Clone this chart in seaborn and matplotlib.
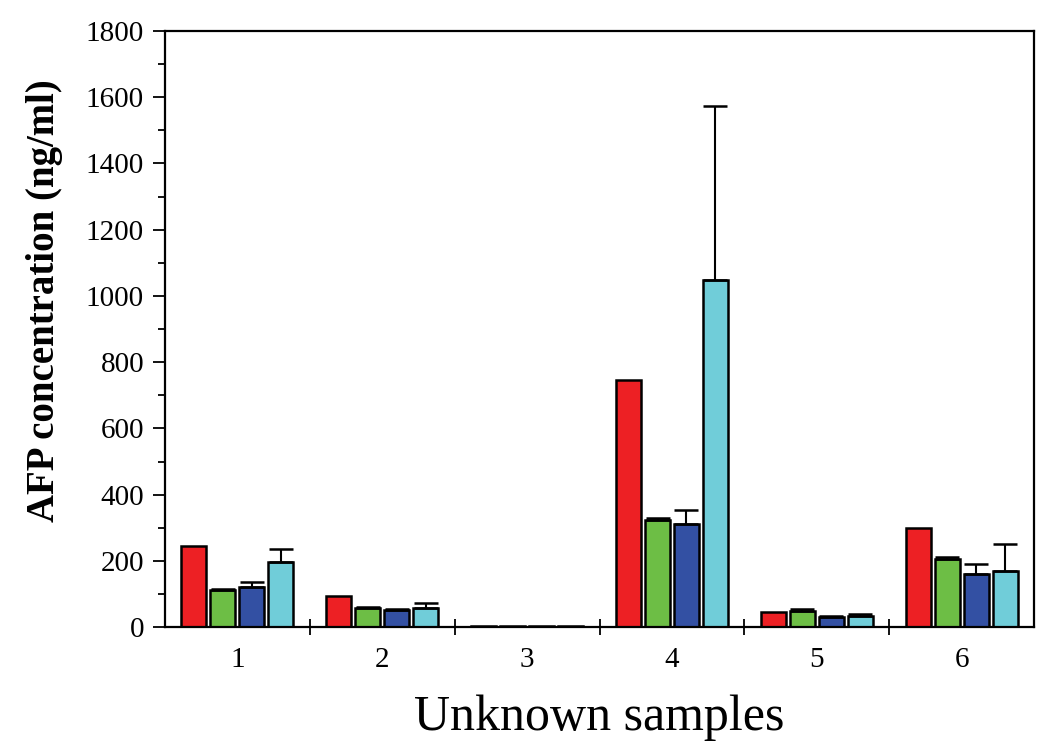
import numpy as np
import pandas as pd
import matplotlib
matplotlib.use("Agg")
import matplotlib.pyplot as plt
import seaborn as sns
from matplotlib.ticker import MultipleLocator, FixedLocator

# data
samples = ["1", "2", "3", "4", "5", "6"]
methods = ["A", "B", "C", "D"]
red_vals = [245, 94, 3, 745, 46, 300]
green_vals = [112, 58, 3, 325, 50, 207]
blue_vals = [121, 51, 3, 313, 30, 162]
cyan_vals = [197, 59, 3, 1049, 35, 170]
red_err = [0, 0, 0, 0, 0, 0]
green_err = [4, 4, 0, 4, 4, 4]
blue_err = [15, 5, 0, 42, 4, 30]
cyan_err = [40, 15, 0, 523, 4, 82]
colors = ["#ED2024", "#6DBE45", "#3350A3", "#70CDD9"]

all_vals = [red_vals, green_vals, blue_vals, cyan_vals]
all_err = [red_err, green_err, blue_err, cyan_err]

rows = []
for m, vals in zip(methods, all_vals):
    for s, v in zip(samples, vals):
        rows.append({"sample": s, "method": m, "conc": v})
df = pd.DataFrame(rows)

sns.set_style("white")
plt.rcParams["font.family"] = ["Liberation Serif", "DejaVu Serif"]
plt.rcParams["text.color"] = "black"
plt.rcParams["axes.labelcolor"] = "black"
plt.rcParams["xtick.color"] = "black"
plt.rcParams["ytick.color"] = "black"

fig = plt.figure(figsize=(10.5, 7.53), dpi=100)
ax = fig.add_axes([0.157, 0.167, 0.828, 0.792])

sns.barplot(data=df, x="sample", y="conc", hue="method",
            palette=colors, errorbar=None, width=0.8, gap=0.13,
            edgecolor="black", linewidth=1.8, saturation=1,
            legend=False, ax=ax)

# upward-only error bars on top of each bar
for cont, err in zip(ax.containers, all_err):
    for bar, e in zip(cont.patches, err):
        if e <= 0:
            continue
        xc = bar.get_x() + bar.get_width() / 2
        top = bar.get_height()
        ax.errorbar(xc, top, yerr=[[0], [e]], fmt="none",
                    ecolor="black", elinewidth=1.5, capsize=8.5,
                    capthick=1.8, zorder=1)

ax.set_xlim(-0.5, 5.5)
ax.set_ylim(0, 1800)
ax.yaxis.set_major_locator(MultipleLocator(200))
ax.yaxis.set_minor_locator(MultipleLocator(100))
ax.xaxis.set_minor_locator(FixedLocator(np.arange(0.5, 5.5, 1)))

ax.tick_params(axis="y", which="major", direction="out", length=9,
               width=1.3, labelsize=21, left=True, right=False, pad=6)
ax.tick_params(axis="y", which="minor", direction="out", length=5,
               width=1.3, left=True, right=False)
ax.tick_params(axis="x", which="major", length=0, labelsize=21, pad=14)
ax.tick_params(axis="x", which="minor", direction="inout", length=12,
               width=1.3, bottom=True)

for sp in ax.spines.values():
    sp.set_visible(True)
    sp.set_linewidth(1.6)
    sp.set_color("black")

ax.set_xlabel("Unknown samples", fontsize=36, labelpad=16)
ax.set_ylabel("AFP concentration (ng/ml)", fontsize=28,
              fontweight="bold")
ax.yaxis.set_label_coords(-0.117, 0.547)

fig.savefig("out.png", dpi=100)
